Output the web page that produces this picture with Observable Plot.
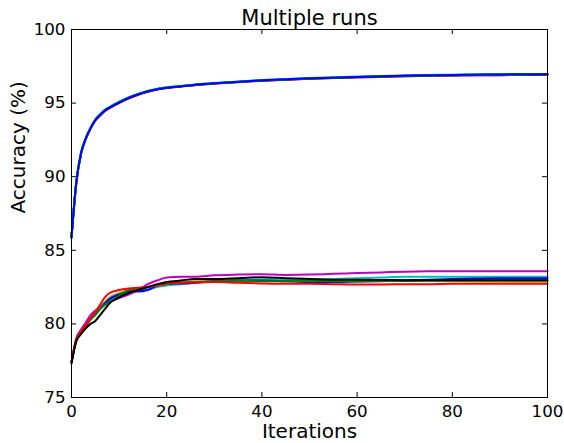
<!DOCTYPE html>
<html>
<head>
<meta charset="utf-8">
<script src="https://cdn.jsdelivr.net/npm/d3@7"></script>
<script src="https://cdn.jsdelivr.net/npm/@observablehq/plot@0.6"></script>
<style>
  html, body { margin: 0; padding: 0; background: #fff; }
  #chart { width: 564px; height: 443px; }
</style>
</head>
<body>
<div id="chart"></div>
<script>
const title = "Multiple runs";
const xLabel = "Iterations";
const yLabel = "Accuracy (%)";
const xTicks = [0, 20, 40, 60, 80, 100];
const yTicks = [75, 80, 85, 90, 95, 100];

const iterations = [0,1,2,3,4,5,6,7,8,10,12,14,16,18,20,23,26,30,35,40,45,50,55,60,65,70,75,80,85,90,95,100];

// upper cluster (one per run)
const upperRed     = [85.85,89.55,91.55,92.55,93.26,93.8,94.16,94.46,94.66,95.02,95.32,95.57,95.77,95.93,96.03,96.13,96.23,96.33,96.43,96.52,96.59,96.65,96.7,96.74,96.78,96.82,96.85,96.87,96.89,96.9,96.91,96.92];
const upperMagenta = [85.85,89.55,91.55,92.57,93.27,93.82,94.17,94.47,94.67,95.02,95.32,95.57,95.77,95.92,96.02,96.12,96.22,96.32,96.42,96.52,96.59,96.65,96.7,96.75,96.79,96.82,96.85,96.87,96.89,96.9,96.91,96.92];
const upperYellow  = [85.88,89.58,91.58,92.6,93.3,93.86,94.23,94.53,94.73,95.08,95.37,95.61,95.81,95.95,96.04,96.14,96.24,96.34,96.44,96.53,96.6,96.66,96.71,96.76,96.8,96.84,96.87,96.89,96.91,96.92,96.93,96.94];
const upperCyan    = [85.9,89.62,91.62,92.62,93.33,93.88,94.24,94.54,94.74,95.09,95.39,95.63,95.82,95.97,96.07,96.17,96.27,96.37,96.47,96.57,96.64,96.7,96.75,96.8,96.84,96.88,96.91,96.93,96.95,96.96,96.97,96.98];
const upperGreen   = [85.9,89.6,91.6,92.61,93.32,93.87,94.23,94.53,94.73,95.08,95.38,95.62,95.81,95.96,96.05,96.15,96.24,96.34,96.44,96.54,96.61,96.67,96.72,96.77,96.81,96.85,96.88,96.9,96.92,96.93,96.94,96.95];
const upperBlack   = [85.88,89.58,91.58,92.59,93.29,93.84,94.19,94.49,94.69,95.04,95.34,95.59,95.79,95.94,96.04,96.14,96.24,96.34,96.44,96.54,96.61,96.67,96.72,96.77,96.81,96.85,96.88,96.9,96.92,96.93,96.94,96.95];
const upperBlue    = [85.9,89.6,91.6,92.6,93.3,93.85,94.2,94.5,94.7,95.05,95.35,95.6,95.8,95.95,96.05,96.15,96.25,96.35,96.45,96.55,96.62,96.68,96.73,96.78,96.82,96.86,96.89,96.91,96.93,96.95,96.96,96.97];

// lower cluster (one per run)
const lowerYellow  = [77.4,78.9,79.5,79.9,80.4,80.7,81.1,81.5,81.8,82.1,82.3,82.4,82.5,82.65,82.75,82.85,82.9,82.9,82.95,83.0,83.0,83.0,83.0,83.0,82.97,82.95,82.92,82.9,82.88,82.87,82.86,82.86];
const lowerCyan    = [77.4,79.0,79.6,80.0,80.4,80.7,81.0,81.3,81.6,81.9,82.2,82.25,82.35,82.5,82.6,82.7,82.8,82.9,82.95,83.0,83.0,83.02,83.05,83.1,83.15,83.2,83.2,83.2,83.2,83.2,83.2,83.2];
const lowerBlue    = [77.4,78.9,79.5,79.9,80.3,80.7,81.1,81.4,81.7,82.0,82.2,82.2,82.3,82.6,82.72,82.75,82.8,82.9,82.95,82.95,82.9,82.85,82.85,82.88,82.9,82.95,83.0,83.05,83.08,83.1,83.1,83.1];
const lowerMagenta = [77.4,79.0,79.6,80.1,80.6,80.9,81.1,81.3,81.5,81.75,82.0,82.3,82.7,82.95,83.15,83.2,83.2,83.3,83.35,83.38,83.33,83.35,83.4,83.45,83.5,83.55,83.57,83.58,83.58,83.58,83.58,83.58];
const lowerGreen   = [77.4,78.9,79.5,79.9,80.3,80.6,81.0,81.3,81.5,81.9,82.3,82.4,82.5,82.6,82.7,82.8,82.85,82.9,82.95,82.9,82.9,82.92,82.9,82.9,82.92,82.92,82.95,82.95,82.95,82.95,82.95,82.95];
const lowerRed     = [77.4,78.9,79.5,79.9,80.4,80.8,81.3,81.8,82.1,82.3,82.4,82.45,82.5,82.6,82.75,82.8,82.82,82.85,82.8,82.75,82.72,82.72,82.7,82.68,82.68,82.7,82.7,82.72,82.72,82.72,82.72,82.72];
const lowerBlack   = [77.3,78.8,79.3,79.7,80.0,80.2,80.6,81.0,81.4,81.8,82.1,82.3,82.5,82.7,82.85,82.95,83.05,83.05,83.1,83.17,83.1,83.05,83.0,83.0,82.98,82.97,82.97,82.97,82.97,82.97,82.97,82.97];

const colors = {b: "#0000ff", g: "#008000", r: "#ff0000", c: "#00bfbf", m: "#bf00bf", y: "#bfbf00", k: "#000000"};

// draw order (last on top)
const series = [
  {values: lowerYellow, color: colors.y},
  {values: lowerCyan, color: colors.c},
  {values: lowerBlue, color: colors.b},
  {values: lowerMagenta, color: colors.m},
  {values: lowerGreen, color: colors.g},
  {values: lowerRed, color: colors.r},
  {values: lowerBlack, color: colors.k},
  {values: upperRed, color: colors.r},
  {values: upperMagenta, color: colors.m},
  {values: upperYellow, color: colors.y},
  {values: upperBlack, color: colors.k},
  {values: upperGreen, color: colors.g},
  {values: upperCyan, color: colors.c},
  {values: upperBlue, color: colors.b}
];

const lineMarks = series.map(s =>
  Plot.line(iterations.map((it, i) => ({x: it, y: s.values[i]})), {
    x: "x", y: "y", stroke: s.color, strokeWidth: 2, curve: "monotone-x"
  })
);

const W = 564, H = 443, ML = 71, MR = 17, MT = 29, MB = 46;
const frameW = W - ML - MR, frameH = H - MT - MB, tickLen = 5;

const chart = Plot.plot({
  width: W,
  height: H,
  marginLeft: ML,
  marginRight: MR,
  marginTop: MT,
  marginBottom: MB,
  style: {fontFamily: "'DejaVu Sans', sans-serif", fontSize: "16.7px", background: "#fff", color: "#000"},
  x: {domain: [0, 100], label: null},
  y: {domain: [75, 100], label: null},
  marks: [
    ...lineMarks,
    // inward tick marks on all four sides
    Plot.tickX(xTicks, {x: d => d, stroke: "#000", insetTop: frameH - tickLen}),
    Plot.tickX(xTicks, {x: d => d, stroke: "#000", insetBottom: frameH - tickLen}),
    Plot.tickY(yTicks, {y: d => d, stroke: "#000", insetRight: frameW - tickLen}),
    Plot.tickY(yTicks, {y: d => d, stroke: "#000", insetLeft: frameW - tickLen}),
    Plot.frame({stroke: "#000", strokeWidth: 1}),
    Plot.axisX(xTicks, {anchor: "bottom", tickSize: 0, tickPadding: 8, fontSize: 16.7, label: null}),
    Plot.axisY(yTicks, {anchor: "left", tickSize: 0, tickPadding: 6, fontSize: 16.7, label: null}),
    Plot.text([title], {frameAnchor: "top", lineAnchor: "bottom", dy: -4.5, fontSize: 21, fill: "#000"}),
    Plot.text([xLabel], {frameAnchor: "bottom", lineAnchor: "bottom", dy: 40, fontSize: 20, fill: "#000"}),
    Plot.text([yLabel], {frameAnchor: "left", lineAnchor: "bottom", rotate: -90, dx: -47, fontSize: 20, fill: "#000"})
  ]
});

document.getElementById("chart").appendChild(chart);
</script>
</body>
</html>
